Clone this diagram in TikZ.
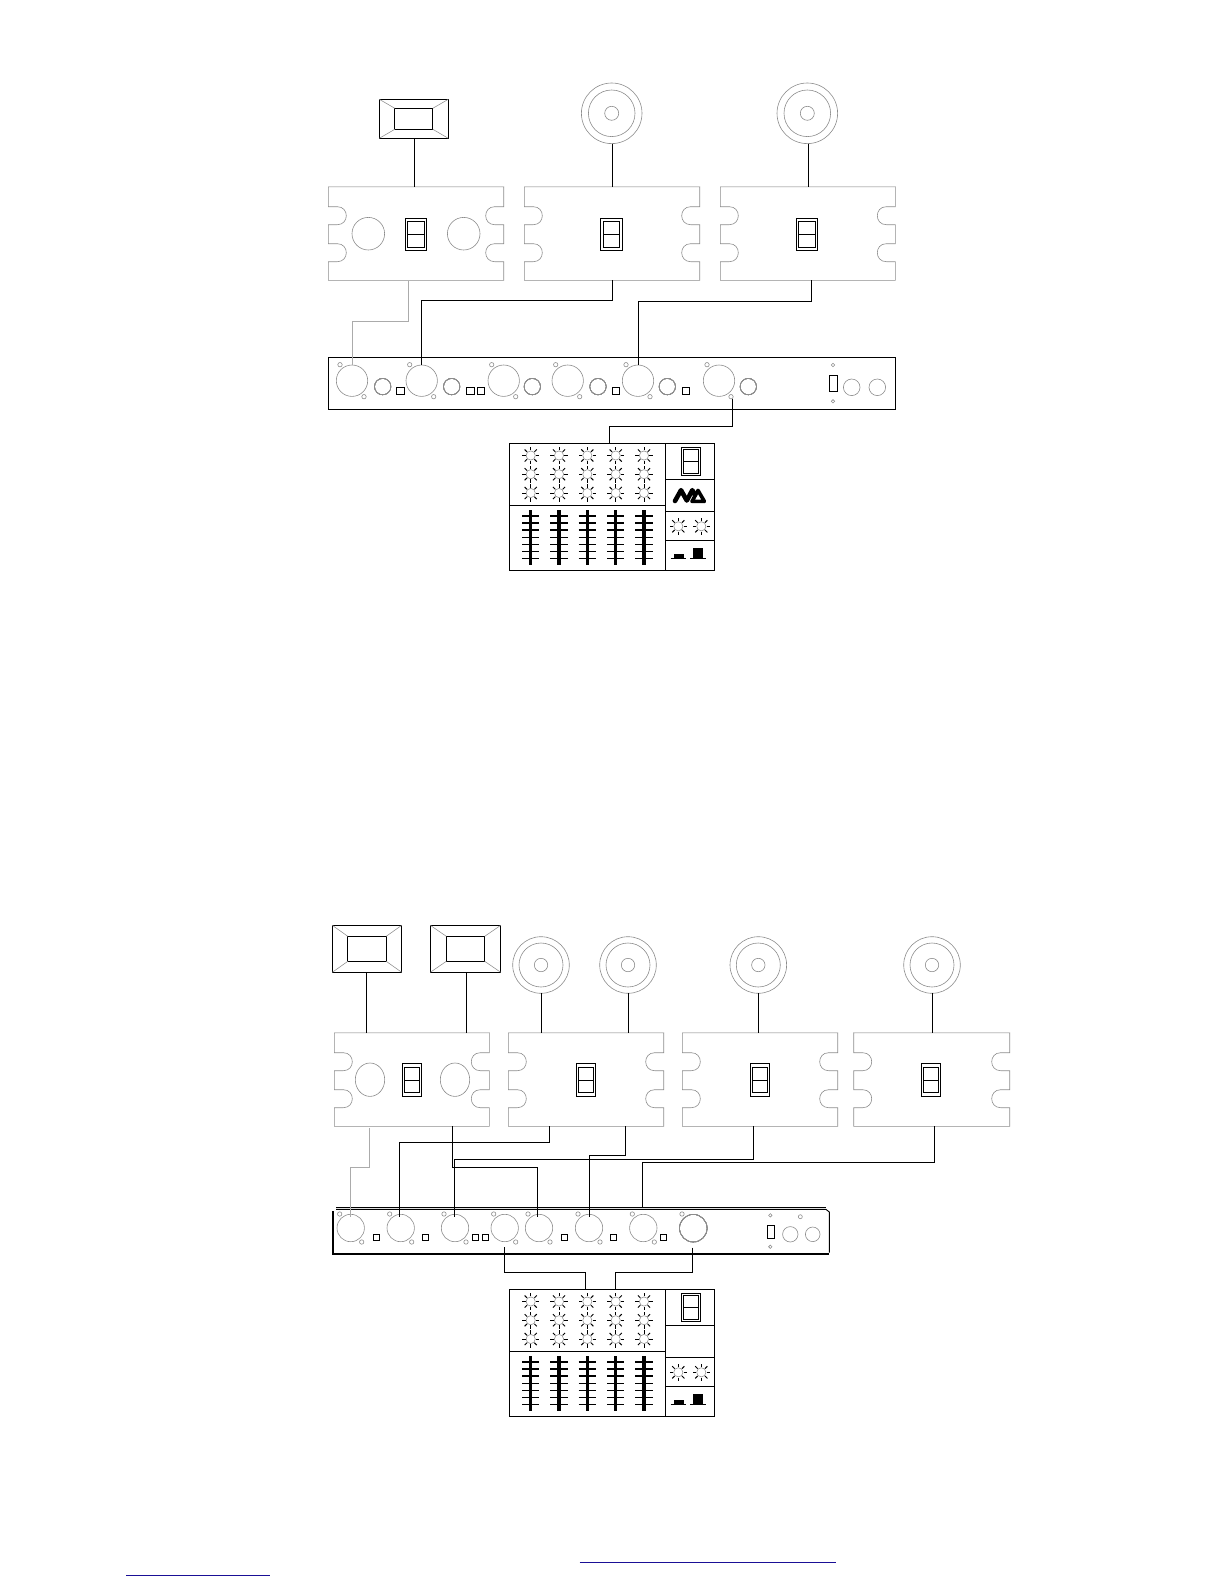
\documentclass[tikz,border=0pt]{standalone}
\usepackage{xcolor}
\usepackage{tikz}
\usetikzlibrary{positioning,calc}
\definecolor{mLineGray}{HTML}{8C8C8C}
\definecolor{mPaleGray}{HTML}{CFCFCF}
\definecolor{mWireGray}{HTML}{ABABAB}
\definecolor{mLinkBlue}{HTML}{1A0F96}
\tikzset{
  outline/.style={draw=mLineGray, line width=0.6pt},
  hardline/.style={draw=black, line width=0.9pt},
  wire/.style={draw=black, line width=0.9pt},
  wiregray/.style={draw=mWireGray, line width=0.9pt},
  roundpart/.style={circle, outline},
  boxpart/.style={rectangle, hardline},
  blankpart/.style={rectangle},
  seamline/.style={draw=mLineGray, line width=0.55pt},
  knobray/.style={draw=black, line width=1pt},
  faderbar/.style={draw=black, line width=3.2pt},
  fadertick/.style={draw=black, line width=1.3pt},
  linkline/.style={draw=mLinkBlue, line width=1pt},
}
% dimmer: name, left, right, top
\newcommand{\dimmerpack}[4]{
  \node[blankpart, minimum width=#3pt-#2pt, minimum height=93.6pt] (#1) at ({(#2+#3)/2},{#4+46.8}) {};
  \draw[outline] (#2,#4) -- (#3,#4) -- ++(0,20) -- ++(-9,0) .. controls +(-12,0) and +(-12,0) .. ++(0,18) -- ++(9,0) -- ++(0,19) -- ++(-9,0) .. controls +(-12,0) and +(-12,0) .. ++(0,18) -- ++(9,0) -- ++(0,18.6) -- ++({#2-#3},0) -- ++(0,-18.6) -- ++(9,0) .. controls +(12,0) and +(12,0) .. ++(0,-18) -- ++(-9,0) -- ++(0,-19) -- ++(9,0) .. controls +(12,0) and +(12,0) .. ++(0,-18) -- ++(-9,0) -- cycle;
  \draw[draw=mPaleGray, line width=1.2pt] (#1.north west) -- (#1.north east);
}
% switch: name, x, y, w, h, inner w, inner h
\newcommand{\seatswitch}[7]{
  \node[boxpart, minimum width=#4pt, minimum height=#5pt] (#1) at (#2,#3) {};
  \node[boxpart, minimum width=#6pt, minimum height=#7pt] (#1i) at (#2,#3) {};
  \draw[hardline] (#1i.west) -- (#1i.east);
}
% lamp: name, x, y, w, h, inner w, inner h
\newcommand{\lampbox}[7]{
  \node[boxpart, minimum width=#4pt, minimum height=#5pt] (#1) at (#2,#3) {};
  \node[boxpart, minimum width=#6pt, minimum height=#7pt] (#1i) at (#2,#3) {};
  \foreach \c in {north west,north east,south west,south east}
    \draw[seamline] (#1.\c) -- (#1i.\c);
}
% speaker: name, x, y, three radii
\newcommand{\speakerhead}[6]{
  \node[roundpart, minimum size=#4pt*2] (#1) at (#2,#3) {};
  \node[roundpart, minimum size=#5pt*2] (#1m) at (#2,#3) {};
  \node[roundpart, minimum size=#6pt*2] (#1c) at (#2,#3) {};
}
% jack: name, x, y, r, hole dx, hole dy
\newcommand{\xlrjack}[6]{
  \node[roundpart, minimum size=#4pt*2] (#1) at (#2,#3) {};
  \node[roundpart, minimum size=4.4pt] (#1a) at ({#2-#5},{#3-#6}) {};
  \node[roundpart, minimum size=4.4pt] (#1b) at ({#2+#5},{#3+#6}) {};
}
\newcommand{\knobstar}[2]{
  \draw[seamline] (#1,#2) circle (4.6);
  \foreach \a in {0,45,...,315}
    \draw[knobray] ({#1+5.2*cos(\a)},{#2+5.2*sin(\a)}) -- ({#1+8.6*cos(\a)},{#2+8.6*sin(\a)});
}
% desk, name and vertical shift
\newcommand{\mixerdesk}[2]{
  \begin{scope}[shift={(0,#2)}]
  \node[boxpart, minimum width=205.4pt, minimum height=126.3pt] (#1) at (612,506.85) {};
  \draw[hardline] (665.7,443.7) -- (665.7,570);
  \draw[hardline] (509.3,505.3) -- (665.7,505.3);
  \draw[hardline] (665.7,479.3) -- (714.7,479.3);
  \draw[hardline] (665.7,511.3) -- (714.7,511.3);
  \draw[hardline] (665.7,540.3) -- (714.7,540.3);
  \foreach \x in {530.7,559,587.3,615.7,644} {
    \foreach \y in {455.5,474.2,493} \knobstar{\x}{\y}
    \draw[faderbar] (\x,510) -- (\x,565);
    \foreach \y in {516,523,530,537.3,544.7,551.7,558.7}
      \draw[fadertick] (\x-8.7,\y) -- (\x+8.7,\y);
  }
  \seatswitch{#1s}{690.7}{461.3}{18.7}{28}{15.3}{23.3}
  \knobstar{678.3}{526.3}
  \knobstar{701.3}{526.3}
  \draw[hardline] (670.7,558.3) -- (686,558.3);
  \fill[black] (674,554.3) rectangle (684,558.3);
  \draw[hardline] (690,558.3) -- (706,558.3);
  \fill[black] (692.7,548) rectangle (702.7,558.3);
  \end{scope}
}
\begin{document}
\begin{tikzpicture}[x=1pt, y=-1pt, every node/.style={inner sep=0pt, outer sep=0pt}]
\useasboundingbox (0,0) rectangle (1224,1584);

% upper rig
\lampbox{lampA}{413.8}{118.8}{69}{39}{38}{21}
\speakerhead{spkA}{611.7}{113.3}{30.3}{23.3}{7}
\speakerhead{spkB}{807.3}{113.3}{30.3}{23.3}{7}
\dimmerpack{dimA}{328.3}{503.7}{186.7}
\dimmerpack{dimB}{524.3}{699.7}{186.7}
\dimmerpack{dimC}{720.3}{895.3}{186.7}
\node[roundpart, minimum size=32.6pt] (dimAl) at (368.3,233.7) {};
\node[roundpart, minimum size=32.6pt] (dimAr) at (463.7,233.7) {};
\seatswitch{swA}{416}{234.3}{21.4}{32.7}{16.4}{25.4}
\seatswitch{swB}{611.5}{234.3}{22.4}{32.7}{16.4}{25.4}
\seatswitch{swC}{807}{234.3}{21.4}{32.7}{16.4}{25.4}

\node[boxpart, minimum width=567.4pt, minimum height=52pt] (rackA) at (612,383.3) {};
\foreach \n/\x in {1/352,2/421.7,3/503.7,4/567.7,5/638,6/719}
  \xlrjack{jackA\n}{\x}{380.7}{15.7}{12}{16}
\foreach \n/\x in {1/382.7,2/451.7,3/532.3,4/598,5/667.3,6/748.3}
  \node[roundpart, minimum size=16.4pt] (potA\n) at (\x,386.6) {};
\foreach \n/\x in {1/400.3,2/470.3,3/481,4/616,5/686}
  \node[boxpart, minimum size=7.3pt] (padA\n) at (\x,391) {};
\node[boxpart, minimum width=8pt, minimum height=16.4pt] (rockA) at (833.3,383.5) {};
\node[roundpart, minimum size=3.4pt] (dotA1) at (833,365) {};
\node[roundpart, minimum size=3.4pt] (dotA2) at (833,401.3) {};
\node[roundpart, minimum size=16.6pt] (outA1) at (851.7,387.3) {};
\node[roundpart, minimum size=16.6pt] (outA2) at (877.3,387.3) {};
\mixerdesk{mixA}{0}
% logo on the upper desk only
\draw[line width=4.6pt, line join=round, line cap=round] (675,501) -- (681,490.2) -- (686.8,500.5) -- (692.3,490.2) -- (695,495);
\draw[line width=3.6pt, line join=round] (698,490.4) -- (704.4,501.4) -- (692,501.4) -- cycle;

\draw[wire] ([xshift=0.5pt]lampA.south) -- ([xshift=0.5pt]lampA.south |- dimA.north);
\draw[wire] ([xshift=0.6pt]spkA.south) -- ([xshift=0.6pt]spkA.south |- dimB.north);
\draw[wire] ([xshift=1pt]spkB.south) -- ([xshift=1pt]spkB.south |- dimC.north);
\draw[wiregray] ([xshift=-8pt,yshift=-1pt]dimA.south) -- ++(0,40) -| (jackA1.north);
\draw[wire] (dimB.south) -- ++(0,20) -| (jackA2.north);
\draw[wire] ([xshift=3.9pt]dimC.south) -- ++(0,21) -| (jackA5.north);
\draw[wire] ([xshift=1pt]jackA6b.south) -- ++(0,27.7) -| ([xshift=-2.7pt]mixA.north);

% lower rig
\lampbox{lampP}{367}{948.8}{69.4}{47}{38.4}{25}
\lampbox{lampQ}{465.5}{948.8}{70.4}{47}{38.4}{25}
\speakerhead{spkP}{541}{965}{28.3}{22}{6.7}
\speakerhead{spkQ}{628}{965}{28.3}{22}{6.7}
\speakerhead{spkR}{758.3}{965}{28.3}{22}{6.7}
\speakerhead{spkS}{932}{965}{28.3}{22}{6.7}
\dimmerpack{dimP}{334.3}{489.3}{1032.7}
\dimmerpack{dimQ}{508.3}{663.7}{1032.7}
\dimmerpack{dimR}{682.3}{837.7}{1032.7}
\dimmerpack{dimS}{853.7}{1009.7}{1032.7}
\seatswitch{swP}{412}{1080}{19.4}{33.4}{15.4}{25.4}
\seatswitch{swQ}{586}{1080}{19.4}{33.4}{15.4}{25.4}
\seatswitch{swR}{760}{1080}{19.4}{33.4}{15.4}{25.4}
\seatswitch{swS}{931}{1080}{19.4}{33.4}{15.4}{25.4}
\draw[outline] (370,1079.7) ellipse (14.7 and 16.7);
\draw[outline] (455,1079.7) ellipse (14.7 and 16.7);

\node[blankpart, minimum width=497pt, minimum height=46.5pt] (rackP) at (581,1230.5) {};
\draw[line width=0.9pt] (336,1207.3) -- (826,1207.3);
\draw[line width=0.9pt] (336,1209.4) -- (826,1209.4) -- (829.3,1212) -- (829.3,1252.7);
\draw[line width=1.7pt] (332.7,1211) -- (332.7,1254) -- (829.3,1254);
\foreach \n/\x in {1/350.7,2/400.7,3/455,4/504.7,5/539,6/589,7/643.3}
  \xlrjack{jackP\n}{\x}{1228}{13.7}{11}{14}
\node[roundpart, minimum size=27.6pt] (jackP8) at (693.3,1228.2) {};
\node[roundpart, minimum size=4.4pt] (jackP8a) at (682,1214) {};
\foreach \n/\x in {1/376.3,2/425.7,3/475.3,4/485.3,5/564.3,6/613.7,7/663.3}
  \node[boxpart, minimum size=6.3pt] (padP\n) at (\x,1237.3) {};
\node[boxpart, minimum width=7pt, minimum height=12.6pt] (rockP) at (770.5,1232) {};
\node[roundpart, minimum size=3.4pt] (dotP1) at (770.3,1215.3) {};
\node[roundpart, minimum size=3.4pt] (dotP2) at (770.3,1246.7) {};
\node[roundpart, minimum size=4pt] (dotP3) at (800.3,1216.7) {};
\node[roundpart, minimum size=15.4pt] (outP1) at (790.3,1234.3) {};
\node[roundpart, minimum size=14.6pt] (outP2) at (812.7,1234.3) {};
\mixerdesk{mixP}{846}

\draw[wire] ([xshift=-0.7pt]lampP.south) -- ([xshift=-0.7pt]lampP.south |- dimP.north);
\draw[wire] ([xshift=0.8pt]lampQ.south) -- ([xshift=0.8pt]lampQ.south |- dimP.north);
\draw[wire] (spkP.south) -- (spkP.south |- dimQ.north);
\draw[wire] (spkQ.south) -- (spkQ.south |- dimQ.north);
\draw[wire] (spkR.south) -- (spkR.south |- dimR.north);
\draw[wire] (spkS.south) -- (spkS.south |- dimS.north);
\draw[wiregray, shorten >=-2.6pt] ([xshift=-42.5pt,yshift=-1.5pt]dimP.south) -- ++(0,39.5) -| (jackP1.north);
\draw[wire, shorten >=-2.6pt] ([xshift=-36.3pt]dimQ.south) -- ++(0,15.9) -| ([xshift=-1.4pt]jackP2.north);
\draw[wire, shorten >=-2.6pt] ([xshift=40.5pt]dimP.south) -- ++(0,41) -| ([xshift=-1.3pt]jackP5.north);
\draw[wire, shorten >=-2.6pt] ([xshift=39.7pt]dimQ.south) -- ++(0,29) -| (jackP6.north);
\draw[wire, shorten >=-2.6pt] ([xshift=-6.7pt]dimR.south) -- ++(0,33) -| ([xshift=-0.7pt]jackP3.north);
\draw[wire, shorten >=7pt] ([xshift=3pt]dimS.south) -- ++(0,36) -| ([xshift=-0.6pt]jackP7.north);
\draw[wire, shorten <=5.6pt] (jackP4.south) -- ++(0,30.6) -| ([xshift=-26.3pt]mixP.north);
\draw[wire, shorten <=5.6pt] ([xshift=-1pt]jackP8.south) -- ++(0,30.4) -| ([xshift=3.3pt]mixP.north);

% stray link rules at the foot
\draw[linkline] (579.7,1562) -- (836.2,1562);
\draw[linkline] (126.2,1575) -- (269.6,1575);
\end{tikzpicture}
\end{document}
